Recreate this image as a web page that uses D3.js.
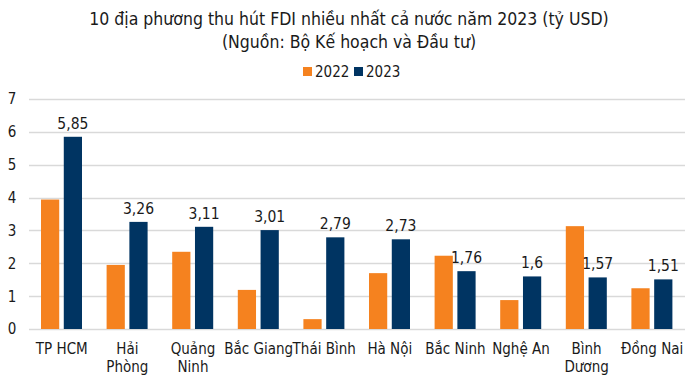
<!DOCTYPE html>
<html>
<head>
<meta charset="utf-8">
<script src="https://cdn.jsdelivr.net/npm/d3@7"></script>
<style>
  body { margin: 0; background: #fff; }
  text { font-family: "DejaVu Sans Condensed", "DejaVu Sans", sans-serif; font-stretch: condensed; fill: #1a1a1a; }
</style>
</head>
<body>
<svg></svg>
<script>
var width = 700;
var height = 385;

// data
var categories = ["TP HCM", "Hải|Phòng", "Quảng|Ninh", "Bắc Giang", "Thái Bình", "Hà Nội", "Bắc Ninh", "Nghệ An", "Bình|Dương", "Đồng Nai"];
var series = ["2022", "2023"];
var values2022 = [3.94, 1.95, 2.35, 1.19, 0.3, 1.7, 2.23, 0.88, 3.13, 1.24];
var values2023 = [5.85, 3.26, 3.11, 3.01, 2.79, 2.73, 1.76, 1.6, 1.57, 1.51];
var labels2023 = ["5,85", "3,26", "3,11", "3,01", "2,79", "2,73", "1,76", "1,6", "1,57", "1,51"];
var yTicks = [0, 1, 2, 3, 4, 5, 6, 7];
var colors = ["#f5821f", "#003462"];

var svg = d3.select('svg')
    .attr('width', width)
    .attr('height', height);

var x0 = d3.scaleBand()
    .domain(categories)
    .range([29, 685])
    .padding(0);

var x1 = d3.scaleBand()
    .domain(series)
    .range([12, x0.bandwidth() - 12.6])
    .paddingInner(0.2);

var y = d3.scaleLinear()
    .domain([0, 7])
    .range([329, 99]);

// gridlines
svg.append('g')
    .selectAll('line')
    .data(yTicks)
    .enter()
    .append('line')
    .attr('x1', 29)
    .attr('x2', 685)
    .attr('y1', function (d) { return Math.round(y(d)) + 0.5; })
    .attr('y2', function (d) { return Math.round(y(d)) + 0.5; })
    .attr('stroke', '#d9d9d9')
    .attr('stroke-width', 1.3);

// y labels
svg.append('g')
    .selectAll('text')
    .data(yTicks)
    .enter()
    .append('text')
    .attr('x', 12)
    .attr('y', function (d) { return y(d); })
    .attr('dy', '0.36em')
    .attr('text-anchor', 'middle')
    .attr('font-size', 15)
    .text(function (d) { return d; });

var rows = categories.map(function (c, i) {
    return { cat: c, v: [values2022[i], values2023[i]], label: labels2023[i] };
});

var groups = svg.append('g')
    .selectAll('g')
    .data(rows)
    .enter()
    .append('g')
    .attr('transform', function (d) { return 'translate(' + x0(d.cat) + ',0)'; });

groups.selectAll('rect')
    .data(function (d) { return d.v.map(function (v, j) { return { s: series[j], v: v, j: j }; }); })
    .enter()
    .append('rect')
    .attr('x', function (d) { return x1(d.s); })
    .attr('y', function (d) { return y(d.v); })
    .attr('width', x1.bandwidth())
    .attr('height', function (d) { return y(0) - y(d.v); })
    .attr('fill', function (d) { return colors[d.j]; });

// data labels on 2023
groups.append('text')
    .attr('x', x1('2023') + x1.bandwidth() / 2)
    .attr('y', function (d) { return y(d.v[1]) - 8; })
    .attr('text-anchor', 'middle')
    .attr('font-size', 15.5)
    .text(function (d) { return d.label; });

// x labels
var xl = groups.append('text')
    .attr('text-anchor', 'middle')
    .attr('font-size', 15)
    .attr('y', 354);

xl.selectAll('tspan')
    .data(function (d) { return d.cat.split('|'); })
    .enter()
    .append('tspan')
    .attr('x', x0.bandwidth() / 2)
    .attr('dy', function (d, i) { return i ? 18 : 0; })
    .text(function (d) { return d; });

// title
svg.append('text')
    .attr('x', 349)
    .attr('y', 25)
    .attr('text-anchor', 'middle')
    .attr('font-size', 17.5)
    .text('10 địa phương thu hút FDI nhiều nhất cả nước năm 2023 (tỷ USD)');

svg.append('text')
    .attr('x', 349)
    .attr('y', 48)
    .attr('text-anchor', 'middle')
    .attr('font-size', 17.5)
    .text('(Nguồn: Bộ Kế hoạch và Đầu tư)');

// legend
var legend = svg.append('g')
    .selectAll('g')
    .data(series)
    .enter()
    .append('g')
    .attr('transform', function (d, i) { return 'translate(' + (303 + i * 51) + ',67)'; });

legend.append('rect')
    .attr('width', 9)
    .attr('height', 9)
    .attr('fill', function (d, i) { return colors[i]; });

legend.append('text')
    .attr('x', 12)
    .attr('y', 10)
    .attr('font-size', 15)
    .text(function (d) { return d; });
</script>
</body>
</html>
